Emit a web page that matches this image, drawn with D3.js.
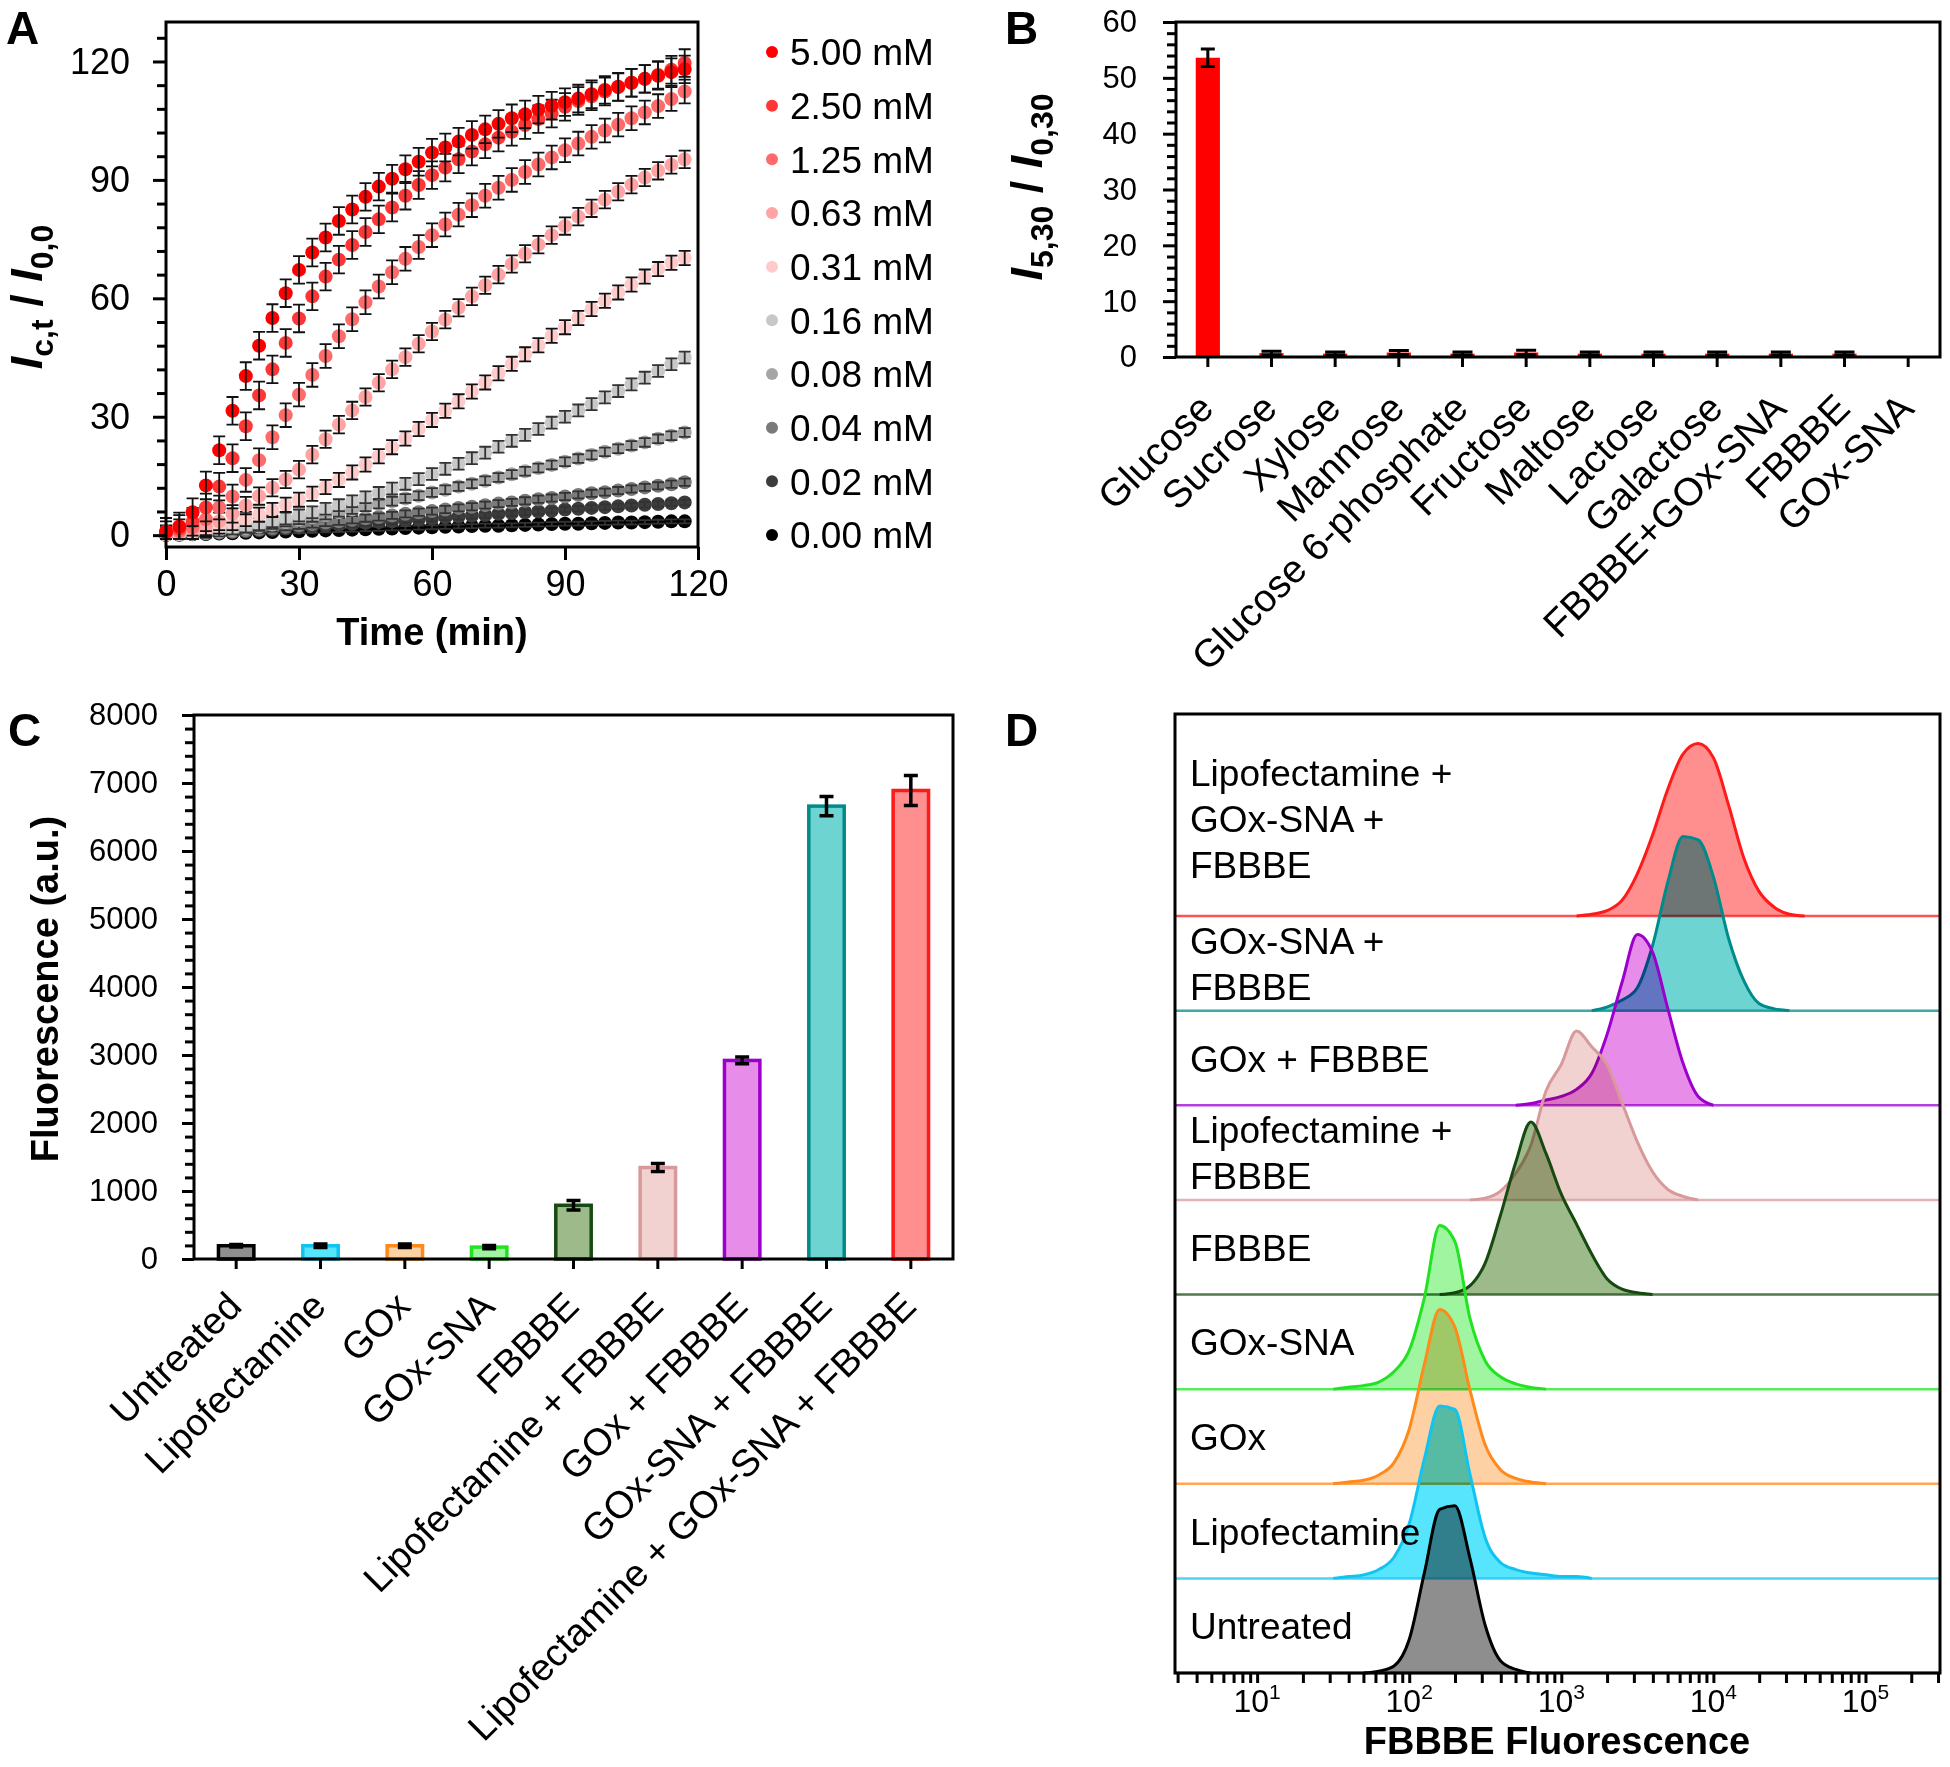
<!DOCTYPE html>
<head>
  <style>
    body { margin: 0; background: #fff; }
    svg text { font-family: "Liberation Sans", Arial, sans-serif; fill: #000; }
  </style>
  <title>Glucose-responsive FBBBE fluorescence</title>
</head>

<body>
  <script src="https://cdn.jsdelivr.net/npm/d3@7"></script>

  <script>
    // ---------------- data ----------------
    // Panel A: time course, one point every 3 min
    var times = [0, 3, 6, 9, 12, 15, 18, 21, 24, 27, 30, 33, 36, 39, 42, 45, 48, 51, 54, 57,
                 60, 63, 66, 69, 72, 75, 78, 81, 84, 87, 90, 93, 96, 99, 102, 105, 108, 111, 114, 117];
    var concLabels = ["5.00 mM", "2.50 mM", "1.25 mM", "0.63 mM", "0.31 mM",
                      "0.16 mM", "0.08 mM", "0.04 mM", "0.02 mM", "0.00 mM"];
    var conc500 = [0.8, 2.2, 5.8, 12.6, 21.5, 31.5, 40.3, 48.0, 55.0, 61.3, 67.2, 71.6, 75.4, 79.6, 82.5, 85.7, 88.3, 90.3, 92.7, 94.6,
                   96.9, 98.2, 99.7, 101.4, 102.8, 104.2, 105.6, 106.6, 107.8, 108.8, 109.7, 110.6, 111.7, 112.8, 113.6, 114.6, 115.6, 116.4, 117.3, 118.0];
    var conc250 = [0.9, 1.6, 3.4, 7.0, 12.3, 19.5, 27.6, 35.4, 42.0, 48.7, 54.9, 60.5, 65.5, 69.8, 73.5, 76.8, 80.0, 83.0, 86.0, 88.7,
                   91.2, 93.1, 95.2, 97.2, 99.0, 100.7, 102.2, 103.9, 105.4, 106.8, 108.5, 110.0, 111.2, 112.4, 113.5, 114.6, 115.6, 116.6, 117.9, 119.6];
    var conc125 = [0.5, 1.0, 2.0, 4.0, 7.0, 9.8, 14.0, 19.0, 24.8, 30.4, 35.6, 40.6, 45.4, 50.4, 54.7, 59.0, 63.0, 66.6, 70.0, 73.0,
                   76.0, 78.7, 81.2, 83.6, 86.0, 88.0, 90.0, 92.0, 93.9, 95.7, 97.5, 99.2, 100.9, 102.5, 104.0, 105.6, 107.1, 108.7, 110.5, 112.4];
    var conc063 = [0.3, 0.6, 1.2, 2.2, 3.5, 5.4, 7.5, 9.9, 12.0, 14.1, 16.6, 20.4, 24.3, 28.0, 31.6, 35.0, 38.6, 42.0, 45.1, 48.5,
                   51.6, 54.6, 57.6, 60.5, 63.3, 66.0, 68.7, 71.3, 73.6, 76.0, 78.3, 80.7, 82.8, 85.0, 87.0, 88.8, 90.6, 92.3, 93.8, 95.2];
    var conc031 = [0.2, 0.4, 0.8, 1.4, 2.2, 3.1, 4.1, 5.2, 6.4, 7.7, 9.0, 10.5, 12.2, 14.0, 15.9, 17.9, 20.0, 22.3, 24.5, 26.9,
                   29.2, 31.5, 33.9, 36.4, 38.7, 41.0, 43.4, 45.8, 48.1, 50.5, 52.7, 55.0, 57.3, 59.4, 61.5, 63.5, 65.5, 67.4, 69.0, 70.2];
    var conc016 = [0.1, 0.3, 0.5, 0.8, 1.2, 1.7, 2.2, 2.8, 3.5, 4.2, 5.0, 5.8, 6.7, 7.6, 8.6, 9.6, 10.7, 11.8, 13.0, 14.2,
                   15.5, 16.8, 18.1, 19.5, 20.9, 22.4, 23.9, 25.4, 26.9, 28.5, 30.0, 31.6, 33.2, 34.9, 36.5, 38.2, 39.9, 41.6, 43.3, 45.0];
    var conc008 = [0.1, 0.2, 0.4, 0.6, 0.9, 1.3, 1.7, 2.2, 2.7, 3.3, 3.9, 4.5, 5.1, 5.8, 6.5, 7.2, 7.9, 8.6, 9.3, 10.0,
                   10.8, 11.5, 12.3, 13.0, 13.8, 14.6, 15.4, 16.2, 17.0, 17.8, 18.6, 19.4, 20.3, 21.1, 21.9, 22.7, 23.5, 24.4, 25.2, 26.0];
    var conc004 = [0.1, 0.2, 0.3, 0.5, 0.7, 0.9, 1.2, 1.5, 1.8, 2.1, 2.5, 2.8, 3.2, 3.5, 3.9, 4.3, 4.6, 5.0, 5.4, 5.8,
                   6.1, 6.5, 6.9, 7.2, 7.6, 8.0, 8.3, 8.7, 9.1, 9.4, 9.8, 10.2, 10.6, 10.9, 11.3, 11.7, 12.1, 12.5, 12.9, 13.4];
    var conc002 = [0.1, 0.2, 0.3, 0.4, 0.6, 0.8, 1.0, 1.2, 1.4, 1.7, 1.9, 2.1, 2.4, 2.6, 2.8, 3.1, 3.3, 3.5, 3.8, 4.0,
                   4.2, 4.5, 4.7, 4.9, 5.1, 5.4, 5.6, 5.8, 6.0, 6.2, 6.5, 6.7, 6.9, 7.1, 7.3, 7.5, 7.7, 7.9, 8.1, 8.3];
    var conc000 = [0.0, 0.1, 0.2, 0.3, 0.4, 0.5, 0.6, 0.7, 0.8, 0.9, 1.0, 1.1, 1.2, 1.3, 1.4, 1.5, 1.6, 1.7, 1.8, 1.9,
                   2.0, 2.1, 2.2, 2.3, 2.4, 2.4, 2.5, 2.6, 2.7, 2.8, 2.9, 2.9, 3.0, 3.1, 3.2, 3.2, 3.3, 3.4, 3.5, 3.5];
    var concErr = [3.5, 3.5, 3.0, 2.2, 1.8, 1.5, 1.1, 0.9, 0.7, 0.5];
    var aMajorY = [0, 30, 60, 90, 120];
    var aMinorY = [6, 12, 18, 24, 36, 42, 48, 54, 66, 72, 78, 84, 96, 102, 108, 114, 126];
    var aMajorX = [0, 30, 60, 90, 120];

    // Panel B: selectivity
    var bCategories = ["Glucose", "Sucrose", "Xylose", "Mannose", "Glucose 6-phosphate", "Fructose",
                       "Maltose", "Lactose", "Galactose", "FBBBE+GOx-SNA", "FBBBE", "GOx-SNA"];
    var bValues = [53.6, 0.7, 0.6, 0.8, 0.6, 0.8, 0.6, 0.6, 0.6, 0.6, 0.6, 0];
    var bErrors = [1.55, 0.35, 0.3, 0.35, 0.3, 0.4, 0.3, 0.3, 0.3, 0.3, 0.3, 0];
    var bMajorY = [0, 10, 20, 30, 40, 50, 60];
    var bMinorY = [2, 4, 6, 8, 12, 14, 16, 18, 22, 24, 26, 28, 32, 34, 36, 38, 42, 44, 46, 48, 52, 54, 56, 58];

    // Panel C: cell fluorescence
    var samples = ["Untreated", "Lipofectamine", "GOx", "GOx-SNA", "FBBBE", "Lipofectamine + FBBBE",
                   "GOx + FBBBE", "GOx-SNA + FBBBE", "Lipofectamine + GOx-SNA + FBBBE"];
    var cValues = [195, 195, 195, 175, 790, 1345, 2920, 6660, 6890];
    var cErrors = [20, 25, 25, 25, 70, 60, 50, 140, 220];
    var cMajorY = [0, 1000, 2000, 3000, 4000, 5000, 6000, 7000, 8000];

    // Panel D: flow cytometry histograms (bins in log10 of fluorescence, % of peak)
    var dBins = [1.5, 1.6, 1.7, 1.8, 1.9, 2.0, 2.1, 2.2, 2.3, 2.4, 2.5, 2.6, 2.7, 2.8, 2.9, 3.0,
                 3.1, 3.2, 3.3, 3.4, 3.5, 3.6, 3.7, 3.8, 3.9, 4.0, 4.1, 4.2, 4.3, 4.4, 4.5, 4.6];
    var dUntreated = [0, 0, 0, 1, 4, 19, 57, 93, 95, 65, 27, 7, 2, 0, 0, 0, 0, 0, 0, 0, 0, 0, 0, 0, 0, 0, 0, 0, 0, 0, 0, 0];
    var dLipo      = [0, 1, 2, 5, 12, 31, 68, 98, 96, 59, 23, 9, 5, 3, 2, 1, 1, 0, 0, 0, 0, 0, 0, 0, 0, 0, 0, 0, 0, 0, 0, 0];
    var dGOx       = [0, 1, 2, 5, 12, 31, 68, 99, 89, 53, 22, 8, 3, 1, 0, 0, 0, 0, 0, 0, 0, 0, 0, 0, 0, 0, 0, 0, 0, 0, 0, 0];
    var dGOxSNA    = [0, 1, 2, 4, 10, 22, 52, 93, 84, 40, 16, 7, 3, 1, 0, 0, 0, 0, 0, 0, 0, 0, 0, 0, 0, 0, 0, 0, 0, 0, 0, 0];
    var dFBBBE     = [0, 0, 0, 0, 0, 0, 0, 0, 1, 5, 18, 45, 75, 98, 80, 57, 40, 23, 9, 3, 1, 0, 0, 0, 0, 0, 0, 0, 0, 0, 0, 0];
    var dLipoF     = [0, 0, 0, 0, 0, 0, 0, 0, 0, 0, 1, 5, 15, 31, 62, 77, 96, 87, 77, 55, 33, 16, 6, 2, 0, 0, 0, 0, 0, 0, 0, 0];
    var dGOxF      = [0, 0, 0, 0, 0, 0, 0, 0, 0, 0, 0, 0, 0, 1, 3, 5, 9, 18, 40, 70, 97, 87, 55, 24, 5, 0, 0, 0, 0, 0, 0, 0];
    var dGOxSNAF   = [0, 0, 0, 0, 0, 0, 0, 0, 0, 0, 0, 0, 0, 0, 0, 0, 0, 0, 2, 6, 13, 37, 73, 99, 97, 76, 41, 17, 4, 1, 0, 0];
    var dLipoGOxF  = [0, 0, 0, 0, 0, 0, 0, 0, 0, 0, 0, 0, 0, 0, 0, 0, 0, 1, 3, 9, 24, 46, 72, 92, 98, 90, 63, 33, 14, 5, 1, 0];
    var dLabels = [["Untreated"], ["Lipofectamine"], ["GOx"], ["GOx-SNA"], ["FBBBE"],
                   ["Lipofectamine +", "FBBBE"], ["GOx + FBBBE"], ["GOx-SNA +", "FBBBE"],
                   ["Lipofectamine +", "GOx-SNA +", "FBBBE"]];
    var dMajorX = [1e1, 1e2, 1e3, 1e4, 1e5];
    var dExponents = ["1", "2", "3", "4", "5"];

    // ---------------- styles ----------------
    var aColors = ["#ff0000", "#ff3636", "#ff6b6b", "#ffa3a3", "#ffcaca",
                   "#c8c8c8", "#a6a6a6", "#7a7a7a", "#3c3c3c", "#000000"];
    var sampleFill   = ["#8e8e8e", "#57e4fd", "#fdd1a3", "#a0f6a0", "#9dbb8a", "#f2d1d1", "#e78de9", "#6dd4d2", "#ff8e8e"];
    var sampleStroke = ["#000000", "#10c4f2", "#ff8a1c", "#22e322", "#174a10", "#d79999", "#9b00cc", "#008b8b", "#ff1a1a"];

    var svg = d3.select("body").append("svg")
      .attr("width", 1950)
      .attr("height", 1767)
      .style("background", "#fff");

    function styleAxis(g, size) {
      g.select(".domain").remove();
      g.selectAll(".tick line").attr("stroke", "#000").attr("stroke-width", 3);
      g.selectAll(".tick text").style("font-size", size + "px").attr("fill", "#000");
    }

    function frame(g, x0, y0, x1, y1) {
      g.append("rect")
        .attr("x", x0).attr("y", y0)
        .attr("width", x1 - x0).attr("height", y1 - y0)
        .attr("fill", "none").attr("stroke", "#000").attr("stroke-width", 3);
    }

    function errPath(x, y1, y2, w) {
      return "M" + (x - w) + "," + y1 + "H" + (x + w) + "M" + x + "," + y1 + "V" + y2 + "M" + (x - w) + "," + y2 + "H" + (x + w);
    }

    function ratioLabel(g, tx, ty, top, bottom) {
      var t = g.append("text")
        .attr("transform", "translate(" + tx + "," + ty + ") rotate(-90)")
        .attr("text-anchor", "middle")
        .style("font-size", "45px").style("font-weight", "bold");
      t.append("tspan").style("font-style", "italic").text("I");
      t.append("tspan").attr("dy", 11).style("font-size", "32px").text(top);
      t.append("tspan").attr("dy", -11).text(" / ");
      t.append("tspan").style("font-style", "italic").text("I");
      t.append("tspan").attr("dy", 11).style("font-size", "32px").text(bottom);
    }

    function panelLetter(t, x, y) {
      svg.append("text").attr("x", x).attr("y", y)
        .style("font-size", "46px").style("font-weight", "bold").text(t);
    }

    // ================= Panel A =================
    var aX = d3.scaleLinear().domain([0, 120]).range([166, 698]);
    var aY = d3.scaleLinear().domain([-3, 130]).range([547, 22]);
    var gA = svg.append("g").attr("id", "panelA");

    var aSeries = [conc500, conc250, conc125, conc063, conc031, conc016, conc008, conc004, conc002, conc000];

    // points + error bars, lowest concentration first so 5.00 mM ends on top
    for (var s = aSeries.length - 1; s >= 0; s--) {
      var pts = aSeries[s].map(function (v, i) { return {t: times[i], v: v, e: concErr[s]}; });
      var gs = gA.append("g");
      gs.selectAll("circle").data(pts).enter().append("circle")
        .attr("cx", function (d) { return aX(d.t); })
        .attr("cy", function (d) { return aY(d.v); })
        .attr("r", 7)
        .attr("fill", aColors[s]);
      gs.selectAll("path").data(pts).enter().append("path")
        .attr("d", function (d) {
          return errPath(aX(d.t), aY(d.v + d.e), aY(Math.max(d.v - d.e, -1)), 6);
        })
        .attr("stroke", s >= 5 ? "#333" : "#111")
        .attr("stroke-width", 1.8)
        .attr("fill", "none");
    }

    var aMinor = gA.append("g").attr("transform", "translate(166,0)")
      .call(d3.axisLeft(aY).tickValues(aMinorY).tickSize(9).tickFormat(""));
    styleAxis(aMinor, 36);
    var aYAxis = gA.append("g").attr("transform", "translate(166,0)")
      .call(d3.axisLeft(aY).tickValues(aMajorY).tickSize(13).tickPadding(23));
    styleAxis(aYAxis, 36);
    var aXAxis = gA.append("g").attr("transform", "translate(0,547)")
      .call(d3.axisBottom(aX).tickValues(aMajorX).tickSize(13).tickPadding(10));
    styleAxis(aXAxis, 36);
    frame(gA, 166, 22, 698, 547);

    gA.append("text")
      .attr("x", 432).attr("y", 645)
      .attr("text-anchor", "middle")
      .style("font-size", "38px").style("font-weight", "bold")
      .text("Time (min)");

    ratioLabel(gA, 42, 297, "c,t", "0,0");

    // legend
    var legend = gA.append("g").attr("id", "legendA");
    var legY = d3.scalePoint().domain(concLabels).range([52, 535]);
    legend.selectAll("circle").data(concLabels).enter().append("circle")
      .attr("cx", 772).attr("cy", function (d) { return legY(d); })
      .attr("r", 6)
      .attr("fill", function (d, i) { return aColors[i]; });
    legend.selectAll("text").data(concLabels).enter().append("text")
      .attr("x", 790).attr("y", function (d) { return legY(d); })
      .attr("dy", "0.36em")
      .style("font-size", "37px")
      .text(function (d) { return d; });

    // ================= Panel B =================
    var bX = d3.scaleBand().domain(bCategories).range([1176, 1940]);
    var bY = d3.scaleLinear().domain([0, 60]).range([357, 22]);
    var gB = svg.append("g").attr("id", "panelB");

    gB.selectAll(".bar").data(bCategories).enter().append("rect")
      .attr("class", "bar")
      .attr("x", function (d) { return bX(d) + bX.bandwidth() * 0.31; })
      .attr("width", bX.bandwidth() * 0.38)
      .attr("y", function (d, i) { return bY(bValues[i]); })
      .attr("height", function (d, i) { return bY(0) - bY(bValues[i]); })
      .attr("fill", "#ff0000");

    gB.selectAll(".err").data(bCategories.filter(function (d, i) { return bErrors[i] > 0; })).enter().append("path")
      .attr("class", "err")
      .attr("d", function (d) {
        var i = bCategories.indexOf(d);
        var w = i === 0 ? 7 : 10;
        return errPath(bX(d) + bX.bandwidth() / 2, bY(bValues[i] + bErrors[i]), bY(Math.max(0, bValues[i] - bErrors[i])), w);
      })
      .attr("stroke", "#000").attr("stroke-width", 3).attr("fill", "none");

    var bMinor = gB.append("g").attr("transform", "translate(1176,0)")
      .call(d3.axisLeft(bY).tickValues(bMinorY).tickSize(9).tickFormat(""));
    styleAxis(bMinor, 30);
    var bYAxis = gB.append("g").attr("transform", "translate(1176,0)")
      .call(d3.axisLeft(bY).tickValues(bMajorY).tickSize(13).tickPadding(26));
    styleAxis(bYAxis, 31);
    var bXAxis = gB.append("g").attr("transform", "translate(0,357)")
      .call(d3.axisBottom(bX).tickSize(10).tickFormat(""));
    styleAxis(bXAxis, 30);
    frame(gB, 1176, 22, 1940, 357);

    gB.selectAll(".blabel").data(bCategories).enter().append("text")
      .attr("class", "blabel")
      .attr("transform", function (d) {
        return "translate(" + (bX(d) + bX.bandwidth() / 2 - 2) + "," + (357 + 44) + ") rotate(-45)";
      })
      .attr("text-anchor", "end")
      .attr("dy", "0.35em")
      .style("font-size", "39px")
      .text(function (d) { return d; });

    ratioLabel(gB, 1042, 187, "5,30", "0,30");

    // ================= Panel C =================
    var cX = d3.scaleBand().domain(samples).range([194, 953]);
    var cY = d3.scaleLinear().domain([0, 8000]).range([1259, 715]);
    var gC = svg.append("g").attr("id", "panelC");

    gC.selectAll(".bar").data(samples).enter().append("rect")
      .attr("class", "bar")
      .attr("x", function (d) { return cX(d) + cX.bandwidth() * 0.29; })
      .attr("width", cX.bandwidth() * 0.42)
      .attr("y", function (d, i) { return cY(cValues[i]); })
      .attr("height", function (d, i) { return cY(0) - cY(cValues[i]); })
      .attr("fill", function (d, i) { return sampleFill[i]; })
      .attr("stroke", function (d, i) { return sampleStroke[i]; })
      .attr("stroke-width", 3.5);

    gC.selectAll(".err").data(samples).enter().append("path")
      .attr("class", "err")
      .attr("d", function (d, i) {
        return errPath(cX(d) + cX.bandwidth() / 2, cY(cValues[i] + cErrors[i]), cY(cValues[i] - cErrors[i]), 7);
      })
      .attr("stroke", "#000").attr("stroke-width", 3.5).attr("fill", "none");

    var cMinorVals = d3.range(200, 8000, 200).filter(function (v) { return v % 1000 !== 0; });
    var cMinor = gC.append("g").attr("transform", "translate(194,0)")
      .call(d3.axisLeft(cY).tickValues(cMinorVals).tickSize(9).tickFormat(""));
    styleAxis(cMinor, 30);
    var cYAxis = gC.append("g").attr("transform", "translate(194,0)")
      .call(d3.axisLeft(cY).tickValues(cMajorY).tickSize(12).tickPadding(24).tickFormat(d3.format("d")));
    styleAxis(cYAxis, 31);
    var cXAxis = gC.append("g").attr("transform", "translate(0,1259)")
      .call(d3.axisBottom(cX).tickSize(10).tickFormat(""));
    styleAxis(cXAxis, 30);
    frame(gC, 194, 715, 953, 1259);

    gC.selectAll(".clabel").data(samples).enter().append("text")
      .attr("class", "clabel")
      .attr("transform", function (d) {
        return "translate(" + (cX(d) + cX.bandwidth() / 2 - 2) + "," + (1259 + 40) + ") rotate(-45)";
      })
      .attr("text-anchor", "end")
      .attr("dy", "0.35em")
      .style("font-size", "38px")
      .text(function (d) { return d; });

    gC.append("text")
      .attr("transform", "translate(58,989) rotate(-90)")
      .attr("text-anchor", "middle")
      .style("font-size", "38px").style("font-weight", "bold")
      .text("Fluorescence (a.u.)");

    // ================= Panel D =================
    var dX = d3.scaleLog().domain([Math.pow(10, 0.46), Math.pow(10, 5.49)]).range([1175, 1940]);
    var dRows = samples.slice().reverse();
    var dBase = d3.scalePoint().domain(dRows).range([916, 1673]);
    var dH = d3.scaleLinear().domain([0, 100]).range([0, 176]);
    var dSeries = [dUntreated, dLipo, dGOx, dGOxSNA, dFBBBE, dLipoF, dGOxF, dGOxSNAF, dLipoGOxF];
    var gD = svg.append("g").attr("id", "panelD");
    var gHist = gD.append("g").style("isolation", "isolate");

    dRows.forEach(function (name) {
      var i = samples.indexOf(name);
      var base = dBase(name);
      var pts = dSeries[i].map(function (v, k) { return {b: dBins[k], v: v}; });
      var first = pts.findIndex(function (p) { return p.v > 0; }) - 1;
      var last = pts.length - 1 - pts.slice().reverse().findIndex(function (p) { return p.v > 0; }) + 1;

      var area = d3.area()
        .x(function (d) { return dX(Math.pow(10, d.b)); })
        .y0(base)
        .y1(function (d) { return base - dH(d.v); })
        .curve(d3.curveMonotoneX);
      var line = d3.line()
        .defined(function (d, k) { return k >= first && k <= last; })
        .x(function (d) { return dX(Math.pow(10, d.b)); })
        .y(function (d) { return base - dH(d.v); })
        .curve(d3.curveMonotoneX);

      gHist.append("path")
        .attr("d", area(pts))
        .attr("fill", sampleFill[i])
        .style("mix-blend-mode", "multiply");
      gHist.append("line")
        .attr("x1", 1175).attr("x2", 1940).attr("y1", base).attr("y2", base)
        .attr("stroke", sampleStroke[i]).attr("stroke-opacity", 0.75).attr("stroke-width", 2.5);
      gHist.append("path")
        .attr("d", line(pts))
        .attr("fill", "none")
        .attr("stroke", sampleStroke[i])
        .attr("stroke-width", 3);
    });

    // row labels
    dRows.forEach(function (name) {
      var i = samples.indexOf(name);
      var lines = dLabels[i];
      var lift = lines.length > 2 ? 50 : 0;
      var y0 = dBase(name) - 47 - (lines.length - 1) * 23 - lift;
      var t = gD.append("text").style("font-size", "37px");
      lines.forEach(function (ln, k) {
        t.append("tspan").attr("x", 1190).attr("y", y0 + k * 46).attr("dy", "0.36em").text(ln);
      });
    });

    var dXAxis = gD.append("g").attr("transform", "translate(0,1673)")
      .call(d3.axisBottom(dX).tickSize(10).tickFormat(""));
    styleAxis(dXAxis, 30);
    frame(gD, 1175, 714, 1940, 1673);

    var dTick = gD.selectAll(".dtick").data(dMajorX).enter().append("text")
      .attr("class", "dtick")
      .attr("x", function (d) { return dX(d); })
      .attr("y", 1712)
      .attr("text-anchor", "middle")
      .style("font-size", "32px");
    dTick.append("tspan").text("10");
    dTick.append("tspan").attr("dy", -13).style("font-size", "21px")
      .text(function (d, i) { return dExponents[i]; });

    gD.append("text")
      .attr("x", 1557).attr("y", 1754)
      .attr("text-anchor", "middle")
      .style("font-size", "38px").style("font-weight", "bold")
      .text("FBBBE Fluorescence");

    // panel letters
    panelLetter("A", 6, 44);
    panelLetter("B", 1005, 44);
    panelLetter("C", 8, 746);
    panelLetter("D", 1005, 746);
  </script>
</body>
